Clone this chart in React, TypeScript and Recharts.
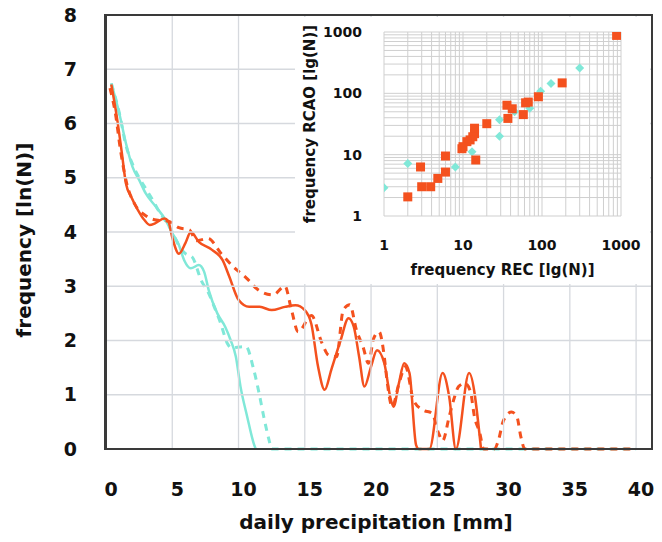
import { LineChart, Line, XAxis, YAxis, CartesianGrid, ScatterChart, Scatter } from 'recharts';

// main chart: frequency vs daily precipitation
const xTicks = [0, 5, 10, 15, 20, 25, 30, 35, 40];
const yTicks = [0, 1, 2, 3, 4, 5, 6, 7, 8];

// [precipitation mm, ln(N)]
const cyanSolid: [number, number][] = [
  [0.4, 6.74], [1.0, 6.19], [1.5, 5.64], [2.0, 5.2], [2.5, 4.96], [3.0, 4.71], [3.75, 4.47],
  [4.5, 4.22], [5.0, 3.98], [5.5, 3.76], [5.9, 3.48], [6.4, 3.33], [7.0, 3.39], [7.4, 3.27],
  [7.75, 2.93], [8.4, 2.5], [9.0, 2.25], [9.4, 2.01], [9.8, 1.7], [10.15, 1.15], [10.65, 0.6],
  [11.15, 0.1], [11.3, 0],
];

const cyanDashed: [number, number][] = [
  [0.4, 6.74], [1.0, 6.2], [1.5, 5.6], [2.0, 5.25], [2.5, 5.0], [3.0, 4.8], [3.5, 4.6],
  [4.0, 4.38], [4.5, 4.2], [5.0, 4.0], [5.5, 3.75], [6.0, 3.6], [6.5, 3.54], [7.2, 3.1],
  [7.75, 2.87], [8.2, 2.6], [8.65, 2.32], [9.15, 1.95], [9.5, 1.86], [10.0, 1.88], [10.55, 1.89],
  [11.15, 1.46], [11.55, 1.03], [11.9, 0.6], [12.3, 0.17], [12.5, 0], [40, 0],
];

const orangeSolid: [number, number][] = [
  [0.4, 6.72], [0.8, 6.15], [1.2, 5.45], [1.5, 4.9], [1.9, 4.65], [2.4, 4.41], [2.9, 4.22],
  [3.3, 4.13], [3.7, 4.16], [4.4, 4.25], [4.7, 4.2], [5.0, 3.9], [5.5, 3.6], [6.0, 3.8],
  [6.4, 4.0], [7.0, 3.82], [8.0, 3.67], [8.8, 3.48], [9.3, 3.18], [10.0, 2.75], [10.8, 2.62],
  [11.6, 2.62], [12.5, 2.56], [13.5, 2.62], [14.3, 2.65], [15.0, 2.56], [15.5, 2.3], [16.0, 1.52],
  [16.5, 1.09], [17.0, 1.46], [17.7, 2.0], [18.3, 2.41], [18.7, 2.25], [19.1, 1.7], [19.5, 1.15],
  [20.0, 1.52], [20.45, 1.82], [21.0, 1.58], [21.5, 0.9], [21.7, 0.78], [22.1, 1.21], [22.5, 1.58],
  [22.9, 1.4], [23.4, 0.07], [23.6, 0], [24.4, 0], [25.4, 1.4], [25.9, 0.96], [26.4, 0],
  [27.4, 1.4], [28.3, 0],
];

const orangeDashed: [number, number][] = [
  [0.3, 6.65], [0.7, 6.2], [1.1, 5.5], [1.5, 4.96], [2.2, 4.5], [3.0, 4.3], [3.8, 4.22],
  [4.7, 4.2], [5.5, 4.08], [6.3, 4.04], [6.8, 3.84], [7.7, 3.88], [8.7, 3.6], [9.6, 3.36],
  [10.6, 3.15], [11.5, 2.93], [12.6, 2.84], [13.5, 3.0], [14.0, 2.56], [14.5, 2.16], [15.5, 2.46],
  [16.3, 1.95], [16.8, 1.73], [17.4, 1.7], [17.9, 2.56], [18.4, 2.66], [18.9, 2.19], [19.4, 1.88],
  [19.8, 1.58], [20.2, 2.04], [20.6, 2.16], [21.0, 1.7], [21.2, 1.27], [21.6, 0.78], [22.1, 1.2],
  [22.6, 1.52], [23.2, 0.9], [23.9, 0.72], [24.6, 0.66], [25.1, 0.29], [25.4, 0.15], [25.9, 0.6],
  [26.3, 0.96], [26.6, 1.15], [27.1, 1.21], [27.5, 1.06], [27.8, 0.6], [28.2, 0.3], [28.5, 0],
  [29.3, 0], [29.6, 0.15], [30.0, 0.53], [30.6, 0.68], [31.0, 0.6], [31.3, 0.23], [31.6, 0], [40, 0],
];

// inset: frequency REC vs frequency RCAO (log-log)
const logTicks = [1, 10, 100, 1000];
const recOrange = [880, 180, 90, 67, 62, 58, 36, 42, 37, 20, 14, 14, 13.3, 12.3, 11.2, 10, 9.7, 14.5, 6, 6, 4.8, 3.9, 3, 2.9, 2];
const rcaoOrange = [880, 148, 88, 72, 70, 45, 64, 56, 39, 32, 27, 22, 19.6, 17.4, 16.3, 13.5, 12.5, 8.2, 9.5, 5.2, 4.1, 3, 3, 6.3, 2.05];
const recCyan = [300, 130, 96, 70, 45, 29, 29, 13, 8, 2, 1];
const rcaoCyan = [260, 145, 108, 57, 50, 37, 20, 11.2, 6.3, 7.2, 2.9];

const ORANGE = '#f4511e';
const CYAN = '#80e8d8';
const GRID = '#d6d9de';
const FRAME = '#3a3a3a';
const FONT = '"DejaVu Sans", "Liberation Sans", Arial, sans-serif';

// plot box of the main chart
const PLOT = { left: 106, top: 15, width: 546, height: 434 };

// one table for the line chart, keyed by precipitation
const seriesMap: Record<string, [number, number][]> = {
  cs: cyanSolid,
  cd: cyanDashed,
  os: orangeSolid,
  od: orangeDashed,
};
const lineTable = (() => {
  const rows = new Map<number, any>();
  Object.entries(seriesMap).forEach(([key, pts]) => {
    pts.forEach(([x, y]) => {
      if (!rows.has(x)) rows.set(x, { x });
      rows.get(x)[key] = y;
    });
  });
  return [...rows.values()].sort((a, b) => a.x - b.x);
})();

const zipPts = (xs: number[], ys: number[]) => xs.map((x, i) => ({ x, y: ys[i] }));

// minor grid values for the log axes
const logGrid: number[] = [];
[1, 10, 100].forEach((d) => {
  for (let k = 1; k < 10; k++) logGrid.push(d * k);
});
logGrid.push(1000);

const tickStyle = { fontFamily: FONT, fontWeight: 'bold', fontSize: 19, fill: '#111' };
const insetTick = { fontFamily: FONT, fontWeight: 'bold', fontSize: 14, fill: '#111' };

const Square = (p: any) =>
  p.cx == null ? null : <rect x={p.cx - 4.5} y={p.cy - 4.5} width={9} height={9} fill={ORANGE} />;

const Diamond = (p: any) =>
  p.cx == null ? null : (
    <polygon
      points={`${p.cx},${p.cy - 4.5} ${p.cx + 4.5},${p.cy} ${p.cx},${p.cy + 4.5} ${p.cx - 4.5},${p.cy}`}
      fill={CYAN}
    />
  );

const logCoords = (axis: any, lo: number, size: number, flip: boolean) => {
  if (axis && typeof axis.scale === 'function') return logGrid.map((v) => axis.scale(v));
  return logGrid.map((v) => {
    const t = Math.log10(v) / 3;
    return flip ? lo + size * (1 - t) : lo + size * t;
  });
};

const Inset = () => (
  <div style={{ position: 'absolute', left: 295, top: 17, width: 355, height: 267, background: '#fff' }}>
    <ScatterChart width={355} height={267} margin={{ top: 15, right: 29, left: 0, bottom: 0 }}>
      <CartesianGrid
        stroke="#cfcfcf"
        verticalCoordinatesGenerator={({ xAxis, offset }: any) =>
          logCoords(xAxis, offset.left, offset.width, false)
        }
        horizontalCoordinatesGenerator={({ yAxis, offset }: any) =>
          logCoords(yAxis, offset.top, offset.height, true)
        }
      />
      <XAxis
        type="number"
        dataKey="x"
        scale="log"
        domain={[1, 1000]}
        ticks={logTicks}
        allowDataOverflow
        axisLine={false}
        tickLine={false}
        tickMargin={18}
        height={68}
        tick={insetTick}
        label={{
          content: ({ viewBox }: any) => (
            <text
              x={viewBox.x + viewBox.width / 2}
              y={viewBox.y + 59}
              textAnchor="middle"
              style={{ ...insetTick, fontSize: 15 }}
            >
              frequency REC [lg(N)]
            </text>
          ),
        }}
      />
      <YAxis
        type="number"
        dataKey="y"
        scale="log"
        domain={[1, 1000]}
        ticks={logTicks}
        allowDataOverflow
        axisLine={false}
        tickLine={false}
        tickMargin={16}
        width={89}
        tick={insetTick}
        label={{
          content: ({ viewBox }: any) => (
            <text
              transform={`translate(${viewBox.x + 20}, ${viewBox.y + viewBox.height / 2}) rotate(-90)`}
              textAnchor="middle"
              style={{ ...insetTick, fontSize: 15 }}
            >
              frequency RCAO [lg(N)]
            </text>
          ),
        }}
      />
      <Scatter data={zipPts(recCyan, rcaoCyan)} shape={Diamond} isAnimationActive={false} />
      <Scatter data={zipPts(recOrange, rcaoOrange)} shape={Square} isAnimationActive={false} />
    </ScatterChart>
  </div>
);

export default function App() {
  return (
    <div style={{ position: 'absolute', left: 0, top: 0, width: 662, height: 542, background: '#fff' }}>
      <LineChart
        data={lineTable}
        width={662}
        height={542}
        margin={{ top: PLOT.top, right: 662 - PLOT.left - PLOT.width, left: 0, bottom: 0 }}
      >
        {/* grid lines are drawn as tick lines running across the plot */}
        <XAxis
          type="number"
          dataKey="x"
          domain={[0, 41.2]}
          ticks={xTicks}
          allowDataOverflow
          height={542 - PLOT.top - PLOT.height}
          axisLine={false}
          tickLine={{ stroke: GRID, strokeWidth: 1.3 }}
          tickSize={-PLOT.height}
          tickMargin={PLOT.height + 34}
          tick={{ ...tickStyle, dx: 5 }}
          label={{
            content: ({ viewBox }: any) => (
              <text
                x={viewBox.x + viewBox.width / 2 - 3}
                y={viewBox.y + 80}
                textAnchor="middle"
                style={{ ...tickStyle, fontSize: 20 }}
              >
                daily precipitation [mm]
              </text>
            ),
          }}
        />
        <YAxis
          type="number"
          domain={[0, 8]}
          ticks={yTicks}
          width={PLOT.left}
          axisLine={false}
          tickLine={{ stroke: GRID, strokeWidth: 1.3 }}
          tickSize={-PLOT.width}
          tickMargin={PLOT.width + 29}
          tick={tickStyle}
          label={{
            content: ({ viewBox }: any) => (
              <text
                transform={`translate(${viewBox.x + 31}, ${viewBox.y + viewBox.height / 2 + 8}) rotate(-90)`}
                textAnchor="middle"
                style={{ ...tickStyle, fontSize: 20 }}
              >
                frequency [ln(N)]
              </text>
            ),
          }}
        />
        <Line dataKey="cs" type="monotone" connectNulls stroke={CYAN} strokeWidth={2.5} dot={false} isAnimationActive={false} />
        <Line dataKey="cd" type="monotone" connectNulls stroke={CYAN} strokeWidth={3} strokeDasharray="7 6" dot={false} isAnimationActive={false} />
        <Line dataKey="os" type="monotone" connectNulls stroke={ORANGE} strokeWidth={2.5} dot={false} isAnimationActive={false} />
        <Line dataKey="od" type="monotone" connectNulls stroke={ORANGE} strokeWidth={3} strokeDasharray="7 6" dot={false} isAnimationActive={false} />
      </LineChart>
      <Inset />
      {/* frame round the plot area */}
      <div
        style={{
          position: 'absolute',
          left: PLOT.left - 2,
          top: PLOT.top - 1,
          width: PLOT.width + 3,
          height: PLOT.height + 2,
          boxSizing: 'border-box',
          borderLeft: `3px solid ${FRAME}`,
          borderBottom: `2px solid ${FRAME}`,
          borderTop: `2px solid ${FRAME}`,
          borderRight: `2px solid ${FRAME}`,
          pointerEvents: 'none',
        }}
      />
    </div>
  );
}
